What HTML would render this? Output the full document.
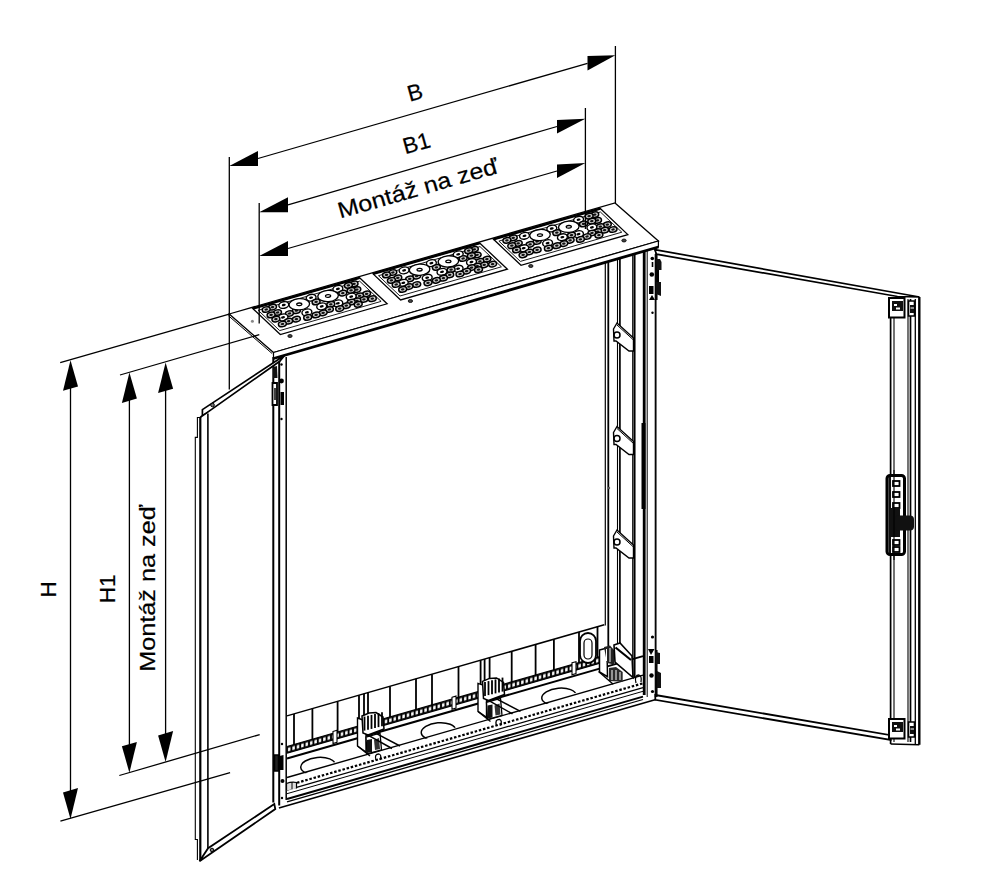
<!DOCTYPE html>
<html><head><meta charset="utf-8"><style>
html,body{margin:0;padding:0;background:#fff;overflow:hidden;}
svg{display:block;}
text{font-family:"Liberation Sans", sans-serif;fill:#000;stroke:#000;stroke-width:0.2px;}
</style></head><body>
<svg width="996" height="873" viewBox="0 0 996 873">
<text transform="translate(414.8 92.3) rotate(-15.5)" x="0" y="7.74" font-size="22.5" text-anchor="middle">B</text>
<text transform="translate(416.5 143.0) rotate(-15.5)" x="0" y="7.74" font-size="22.5" text-anchor="middle">B1</text>
<text transform="translate(417.8 188.2) rotate(-16)" x="0" y="7.74" font-size="22.5" text-anchor="middle" textLength="166" lengthAdjust="spacingAndGlyphs">Montáž na zeď</text>
<text transform="translate(48.0 589.3) rotate(-90)" x="0" y="7.74" font-size="22.5" text-anchor="middle">H</text>
<text transform="translate(107.0 588.8) rotate(-90)" x="0" y="7.74" font-size="22.5" text-anchor="middle">H1</text>
<text transform="translate(147.0 588.3) rotate(-90)" x="0" y="7.74" font-size="22.5" text-anchor="middle" textLength="167" lengthAdjust="spacingAndGlyphs">Montáž na zeď</text>
<polygon points="229.2,314.0 615.0,203.0 658.4,241.0 273.5,352.5" fill="#fff" stroke="#000" stroke-width="1.3"/>
<line x1="228.3" y1="315.6" x2="272.2" y2="353.6" stroke="#000" stroke-width="1.0"/>
<polygon points="273.5,352.5 658.4,241.0 658.4,247.0 273.5,358.5" fill="#fff" stroke="#000" stroke-width="1.2"/>
<line x1="273.5" y1="358.5" x2="658.4" y2="247.0" stroke="#000" stroke-width="2.8"/>
<ellipse cx="290.0" cy="336.0" rx="2.2" ry="1.5" fill="#444" stroke="#000" stroke-width="0.8"/>
<ellipse cx="410.4" cy="301.0" rx="2.2" ry="1.5" fill="#444" stroke="#000" stroke-width="0.8"/>
<ellipse cx="530.8" cy="266.0" rx="2.2" ry="1.5" fill="#444" stroke="#000" stroke-width="0.8"/>
<circle cx="252.4" cy="321.2" r="1.5" fill="#888"/>
<ellipse cx="624" cy="240.5" rx="2.2" ry="1.5" fill="#444" stroke="#000" stroke-width="0.8"/>
<polygon points="252.8,308.5 359.6,277.8 387.1,303.8 280.3,334.5" fill="#fff" stroke="#000" stroke-width="1.3"/>
<line x1="252.8" y1="308.5" x2="359.6" y2="277.8" stroke="#000" stroke-width="2.4"/>
<polygon points="258.2,310.3 359.7,281.2 381.1,301.4 279.7,330.6" fill="none" stroke="#000" stroke-width="0.9"/>
<ellipse cx="354.0" cy="283.9" rx="4.0" ry="2.7" fill="#ccc" stroke="#000" stroke-width="1.5" transform="rotate(-12 354.0 283.9)"/>
<ellipse cx="354.0" cy="283.9" rx="1.8" ry="1.1" fill="#111" stroke="none" stroke-width="1.0" transform="rotate(-12 354.0 283.9)"/>
<ellipse cx="348.4" cy="285.3" rx="4.0" ry="2.7" fill="#ccc" stroke="#000" stroke-width="1.5" transform="rotate(-12 348.4 285.3)"/>
<ellipse cx="348.4" cy="285.3" rx="1.8" ry="1.1" fill="#111" stroke="none" stroke-width="1.0" transform="rotate(-12 348.4 285.3)"/>
<ellipse cx="337.9" cy="288.9" rx="5.0" ry="3.3" fill="#fff" stroke="#000" stroke-width="1.4" transform="rotate(-12 337.9 288.9)"/>
<ellipse cx="337.9" cy="288.9" rx="2.0" ry="1.2" fill="#000" stroke="none" stroke-width="1.0" transform="rotate(-12 337.9 288.9)"/>
<ellipse cx="356.8" cy="289.6" rx="4.0" ry="2.7" fill="#ccc" stroke="#000" stroke-width="1.5" transform="rotate(-12 356.8 289.6)"/>
<ellipse cx="356.8" cy="289.6" rx="1.8" ry="1.1" fill="#111" stroke="none" stroke-width="1.0" transform="rotate(-12 356.8 289.6)"/>
<ellipse cx="351.1" cy="290.3" rx="4.0" ry="2.7" fill="#ccc" stroke="#000" stroke-width="1.5" transform="rotate(-12 351.1 290.3)"/>
<ellipse cx="351.1" cy="290.3" rx="1.8" ry="1.1" fill="#111" stroke="none" stroke-width="1.0" transform="rotate(-12 351.1 290.3)"/>
<ellipse cx="342.8" cy="293.1" rx="4.0" ry="2.7" fill="#ccc" stroke="#000" stroke-width="1.5" transform="rotate(-12 342.8 293.1)"/>
<ellipse cx="342.8" cy="293.1" rx="1.8" ry="1.1" fill="#111" stroke="none" stroke-width="1.0" transform="rotate(-12 342.8 293.1)"/>
<ellipse cx="366.6" cy="293.8" rx="4.0" ry="2.7" fill="#ccc" stroke="#000" stroke-width="1.5" transform="rotate(-12 366.6 293.8)"/>
<ellipse cx="366.6" cy="293.8" rx="1.8" ry="1.1" fill="#111" stroke="none" stroke-width="1.0" transform="rotate(-12 366.6 293.8)"/>
<ellipse cx="359.6" cy="295.9" rx="4.0" ry="2.7" fill="#ccc" stroke="#000" stroke-width="1.5" transform="rotate(-12 359.6 295.9)"/>
<ellipse cx="359.6" cy="295.9" rx="1.8" ry="1.1" fill="#111" stroke="none" stroke-width="1.0" transform="rotate(-12 359.6 295.9)"/>
<ellipse cx="351.2" cy="296.6" rx="5.0" ry="3.3" fill="#fff" stroke="#000" stroke-width="1.4" transform="rotate(-12 351.2 296.6)"/>
<ellipse cx="351.2" cy="296.6" rx="2.0" ry="1.2" fill="#000" stroke="none" stroke-width="1.0" transform="rotate(-12 351.2 296.6)"/>
<ellipse cx="311.1" cy="297.7" rx="5.0" ry="3.3" fill="#fff" stroke="#000" stroke-width="1.4" transform="rotate(-12 311.1 297.7)"/>
<ellipse cx="311.1" cy="297.7" rx="2.0" ry="1.2" fill="#000" stroke="none" stroke-width="1.0" transform="rotate(-12 311.1 297.7)"/>
<ellipse cx="372.3" cy="298.7" rx="4.0" ry="2.7" fill="#ccc" stroke="#000" stroke-width="1.5" transform="rotate(-12 372.3 298.7)"/>
<ellipse cx="372.3" cy="298.7" rx="1.8" ry="1.1" fill="#111" stroke="none" stroke-width="1.0" transform="rotate(-12 372.3 298.7)"/>
<ellipse cx="363.9" cy="299.4" rx="4.0" ry="2.7" fill="#ccc" stroke="#000" stroke-width="1.5" transform="rotate(-12 363.9 299.4)"/>
<ellipse cx="363.9" cy="299.4" rx="1.8" ry="1.1" fill="#111" stroke="none" stroke-width="1.0" transform="rotate(-12 363.9 299.4)"/>
<ellipse cx="356.9" cy="300.8" rx="4.0" ry="2.7" fill="#ccc" stroke="#000" stroke-width="1.5" transform="rotate(-12 356.9 300.8)"/>
<ellipse cx="356.9" cy="300.8" rx="1.8" ry="1.1" fill="#111" stroke="none" stroke-width="1.0" transform="rotate(-12 356.9 300.8)"/>
<ellipse cx="316.1" cy="301.9" rx="4.0" ry="2.7" fill="#ccc" stroke="#000" stroke-width="1.5" transform="rotate(-12 316.1 301.9)"/>
<ellipse cx="316.1" cy="301.9" rx="1.8" ry="1.1" fill="#111" stroke="none" stroke-width="1.0" transform="rotate(-12 316.1 301.9)"/>
<ellipse cx="351.2" cy="302.2" rx="4.0" ry="2.7" fill="#ccc" stroke="#000" stroke-width="1.5" transform="rotate(-12 351.2 302.2)"/>
<ellipse cx="351.2" cy="302.2" rx="1.8" ry="1.1" fill="#111" stroke="none" stroke-width="1.0" transform="rotate(-12 351.2 302.2)"/>
<ellipse cx="337.8" cy="303.3" rx="5.0" ry="3.3" fill="#fff" stroke="#000" stroke-width="1.4" transform="rotate(-12 337.8 303.3)"/>
<ellipse cx="337.8" cy="303.3" rx="2.0" ry="1.2" fill="#000" stroke="none" stroke-width="1.0" transform="rotate(-12 337.8 303.3)"/>
<ellipse cx="358.2" cy="304.3" rx="4.0" ry="2.7" fill="#ccc" stroke="#000" stroke-width="1.5" transform="rotate(-12 358.2 304.3)"/>
<ellipse cx="358.2" cy="304.3" rx="1.8" ry="1.1" fill="#111" stroke="none" stroke-width="1.0" transform="rotate(-12 358.2 304.3)"/>
<ellipse cx="330.8" cy="304.3" rx="4.0" ry="2.7" fill="#ccc" stroke="#000" stroke-width="1.5" transform="rotate(-12 330.8 304.3)"/>
<ellipse cx="330.8" cy="304.3" rx="1.8" ry="1.1" fill="#111" stroke="none" stroke-width="1.0" transform="rotate(-12 330.8 304.3)"/>
<ellipse cx="283.8" cy="305.0" rx="5.0" ry="3.3" fill="#fff" stroke="#000" stroke-width="1.4" transform="rotate(-12 283.8 305.0)"/>
<ellipse cx="283.8" cy="305.0" rx="2.0" ry="1.2" fill="#000" stroke="none" stroke-width="1.0" transform="rotate(-12 283.8 305.0)"/>
<ellipse cx="346.3" cy="305.7" rx="4.0" ry="2.7" fill="#ccc" stroke="#000" stroke-width="1.5" transform="rotate(-12 346.3 305.7)"/>
<ellipse cx="346.3" cy="305.7" rx="1.8" ry="1.1" fill="#111" stroke="none" stroke-width="1.0" transform="rotate(-12 346.3 305.7)"/>
<ellipse cx="321.7" cy="306.4" rx="5.0" ry="3.3" fill="#fff" stroke="#000" stroke-width="1.4" transform="rotate(-12 321.7 306.4)"/>
<ellipse cx="321.7" cy="306.4" rx="2.0" ry="1.2" fill="#000" stroke="none" stroke-width="1.0" transform="rotate(-12 321.7 306.4)"/>
<ellipse cx="272.5" cy="307.1" rx="4.0" ry="2.7" fill="#ccc" stroke="#000" stroke-width="1.5" transform="rotate(-12 272.5 307.1)"/>
<ellipse cx="272.5" cy="307.1" rx="1.8" ry="1.1" fill="#111" stroke="none" stroke-width="1.0" transform="rotate(-12 272.5 307.1)"/>
<ellipse cx="339.7" cy="308.6" rx="4.0" ry="2.7" fill="#ccc" stroke="#000" stroke-width="1.5" transform="rotate(-12 339.7 308.6)"/>
<ellipse cx="339.7" cy="308.6" rx="1.8" ry="1.1" fill="#111" stroke="none" stroke-width="1.0" transform="rotate(-12 339.7 308.6)"/>
<ellipse cx="266.2" cy="309.5" rx="4.0" ry="2.7" fill="#ccc" stroke="#000" stroke-width="1.5" transform="rotate(-12 266.2 309.5)"/>
<ellipse cx="266.2" cy="309.5" rx="1.8" ry="1.1" fill="#111" stroke="none" stroke-width="1.0" transform="rotate(-12 266.2 309.5)"/>
<ellipse cx="329.4" cy="309.5" rx="4.0" ry="2.7" fill="#ccc" stroke="#000" stroke-width="1.5" transform="rotate(-12 329.4 309.5)"/>
<ellipse cx="329.4" cy="309.5" rx="1.8" ry="1.1" fill="#111" stroke="none" stroke-width="1.0" transform="rotate(-12 329.4 309.5)"/>
<ellipse cx="296.4" cy="310.7" rx="4.0" ry="2.7" fill="#ccc" stroke="#000" stroke-width="1.5" transform="rotate(-12 296.4 310.7)"/>
<ellipse cx="296.4" cy="310.7" rx="1.8" ry="1.1" fill="#111" stroke="none" stroke-width="1.0" transform="rotate(-12 296.4 310.7)"/>
<ellipse cx="306.9" cy="312.3" rx="5.0" ry="3.3" fill="#fff" stroke="#000" stroke-width="1.4" transform="rotate(-12 306.9 312.3)"/>
<ellipse cx="306.9" cy="312.3" rx="2.0" ry="1.2" fill="#000" stroke="none" stroke-width="1.0" transform="rotate(-12 306.9 312.3)"/>
<ellipse cx="277.5" cy="312.5" rx="4.0" ry="2.7" fill="#ccc" stroke="#000" stroke-width="1.5" transform="rotate(-12 277.5 312.5)"/>
<ellipse cx="277.5" cy="312.5" rx="1.8" ry="1.1" fill="#111" stroke="none" stroke-width="1.0" transform="rotate(-12 277.5 312.5)"/>
<ellipse cx="323.1" cy="312.8" rx="4.0" ry="2.7" fill="#ccc" stroke="#000" stroke-width="1.5" transform="rotate(-12 323.1 312.8)"/>
<ellipse cx="323.1" cy="312.8" rx="1.8" ry="1.1" fill="#111" stroke="none" stroke-width="1.0" transform="rotate(-12 323.1 312.8)"/>
<ellipse cx="289.4" cy="313.5" rx="4.0" ry="2.7" fill="#ccc" stroke="#000" stroke-width="1.5" transform="rotate(-12 289.4 313.5)"/>
<ellipse cx="289.4" cy="313.5" rx="1.8" ry="1.1" fill="#111" stroke="none" stroke-width="1.0" transform="rotate(-12 289.4 313.5)"/>
<ellipse cx="271.1" cy="314.9" rx="4.0" ry="2.7" fill="#ccc" stroke="#000" stroke-width="1.5" transform="rotate(-12 271.1 314.9)"/>
<ellipse cx="271.1" cy="314.9" rx="1.8" ry="1.1" fill="#111" stroke="none" stroke-width="1.0" transform="rotate(-12 271.1 314.9)"/>
<ellipse cx="316.1" cy="314.9" rx="4.0" ry="2.7" fill="#ccc" stroke="#000" stroke-width="1.5" transform="rotate(-12 316.1 314.9)"/>
<ellipse cx="316.1" cy="314.9" rx="1.8" ry="1.1" fill="#111" stroke="none" stroke-width="1.0" transform="rotate(-12 316.1 314.9)"/>
<ellipse cx="283.0" cy="317.4" rx="5.0" ry="3.3" fill="#fff" stroke="#000" stroke-width="1.4" transform="rotate(-12 283.0 317.4)"/>
<ellipse cx="283.0" cy="317.4" rx="2.0" ry="1.2" fill="#000" stroke="none" stroke-width="1.0" transform="rotate(-12 283.0 317.4)"/>
<ellipse cx="307.7" cy="317.4" rx="4.0" ry="2.7" fill="#ccc" stroke="#000" stroke-width="1.5" transform="rotate(-12 307.7 317.4)"/>
<ellipse cx="307.7" cy="317.4" rx="1.8" ry="1.1" fill="#111" stroke="none" stroke-width="1.0" transform="rotate(-12 307.7 317.4)"/>
<ellipse cx="275.9" cy="319.1" rx="4.0" ry="2.7" fill="#ccc" stroke="#000" stroke-width="1.5" transform="rotate(-12 275.9 319.1)"/>
<ellipse cx="275.9" cy="319.1" rx="1.8" ry="1.1" fill="#111" stroke="none" stroke-width="1.0" transform="rotate(-12 275.9 319.1)"/>
<ellipse cx="296.4" cy="319.1" rx="4.0" ry="2.7" fill="#ccc" stroke="#000" stroke-width="1.5" transform="rotate(-12 296.4 319.1)"/>
<ellipse cx="296.4" cy="319.1" rx="1.8" ry="1.1" fill="#111" stroke="none" stroke-width="1.0" transform="rotate(-12 296.4 319.1)"/>
<ellipse cx="288.6" cy="321.2" rx="4.0" ry="2.7" fill="#ccc" stroke="#000" stroke-width="1.5" transform="rotate(-12 288.6 321.2)"/>
<ellipse cx="288.6" cy="321.2" rx="1.8" ry="1.1" fill="#111" stroke="none" stroke-width="1.0" transform="rotate(-12 288.6 321.2)"/>
<ellipse cx="282.4" cy="324.0" rx="4.0" ry="2.7" fill="#ccc" stroke="#000" stroke-width="1.5" transform="rotate(-12 282.4 324.0)"/>
<ellipse cx="282.4" cy="324.0" rx="1.8" ry="1.1" fill="#111" stroke="none" stroke-width="1.0" transform="rotate(-12 282.4 324.0)"/>
<ellipse cx="299.3" cy="304.3" rx="10.3" ry="5.6" fill="#fff" stroke="#000" stroke-width="1.3" transform="rotate(-4 299.3 304.3)"/>
<ellipse cx="299.3" cy="304.3" rx="2.6" ry="1.3" fill="none" stroke="#000" stroke-width="1.3" transform="rotate(-4 299.3 304.3)"/>
<ellipse cx="328.1" cy="296.0" rx="10.3" ry="5.6" fill="#fff" stroke="#000" stroke-width="1.3" transform="rotate(-4 328.1 296.0)"/>
<ellipse cx="328.1" cy="296.0" rx="2.6" ry="1.3" fill="none" stroke="#000" stroke-width="1.3" transform="rotate(-4 328.1 296.0)"/>
<polygon points="373.1,273.9 479.9,243.2 507.4,269.2 400.6,299.9" fill="#fff" stroke="#000" stroke-width="1.3"/>
<line x1="373.1" y1="273.9" x2="479.9" y2="243.2" stroke="#000" stroke-width="2.4"/>
<polygon points="378.5,275.7 480.0,246.6 501.4,266.8 400.0,296.0" fill="none" stroke="#000" stroke-width="0.9"/>
<ellipse cx="474.3" cy="249.3" rx="4.0" ry="2.7" fill="#ccc" stroke="#000" stroke-width="1.5" transform="rotate(-12 474.3 249.3)"/>
<ellipse cx="474.3" cy="249.3" rx="1.8" ry="1.1" fill="#111" stroke="none" stroke-width="1.0" transform="rotate(-12 474.3 249.3)"/>
<ellipse cx="468.7" cy="250.7" rx="4.0" ry="2.7" fill="#ccc" stroke="#000" stroke-width="1.5" transform="rotate(-12 468.7 250.7)"/>
<ellipse cx="468.7" cy="250.7" rx="1.8" ry="1.1" fill="#111" stroke="none" stroke-width="1.0" transform="rotate(-12 468.7 250.7)"/>
<ellipse cx="458.2" cy="254.3" rx="5.0" ry="3.3" fill="#fff" stroke="#000" stroke-width="1.4" transform="rotate(-12 458.2 254.3)"/>
<ellipse cx="458.2" cy="254.3" rx="2.0" ry="1.2" fill="#000" stroke="none" stroke-width="1.0" transform="rotate(-12 458.2 254.3)"/>
<ellipse cx="477.1" cy="255.0" rx="4.0" ry="2.7" fill="#ccc" stroke="#000" stroke-width="1.5" transform="rotate(-12 477.1 255.0)"/>
<ellipse cx="477.1" cy="255.0" rx="1.8" ry="1.1" fill="#111" stroke="none" stroke-width="1.0" transform="rotate(-12 477.1 255.0)"/>
<ellipse cx="471.4" cy="255.7" rx="4.0" ry="2.7" fill="#ccc" stroke="#000" stroke-width="1.5" transform="rotate(-12 471.4 255.7)"/>
<ellipse cx="471.4" cy="255.7" rx="1.8" ry="1.1" fill="#111" stroke="none" stroke-width="1.0" transform="rotate(-12 471.4 255.7)"/>
<ellipse cx="463.1" cy="258.5" rx="4.0" ry="2.7" fill="#ccc" stroke="#000" stroke-width="1.5" transform="rotate(-12 463.1 258.5)"/>
<ellipse cx="463.1" cy="258.5" rx="1.8" ry="1.1" fill="#111" stroke="none" stroke-width="1.0" transform="rotate(-12 463.1 258.5)"/>
<ellipse cx="486.9" cy="259.2" rx="4.0" ry="2.7" fill="#ccc" stroke="#000" stroke-width="1.5" transform="rotate(-12 486.9 259.2)"/>
<ellipse cx="486.9" cy="259.2" rx="1.8" ry="1.1" fill="#111" stroke="none" stroke-width="1.0" transform="rotate(-12 486.9 259.2)"/>
<ellipse cx="479.9" cy="261.3" rx="4.0" ry="2.7" fill="#ccc" stroke="#000" stroke-width="1.5" transform="rotate(-12 479.9 261.3)"/>
<ellipse cx="479.9" cy="261.3" rx="1.8" ry="1.1" fill="#111" stroke="none" stroke-width="1.0" transform="rotate(-12 479.9 261.3)"/>
<ellipse cx="471.5" cy="262.0" rx="5.0" ry="3.3" fill="#fff" stroke="#000" stroke-width="1.4" transform="rotate(-12 471.5 262.0)"/>
<ellipse cx="471.5" cy="262.0" rx="2.0" ry="1.2" fill="#000" stroke="none" stroke-width="1.0" transform="rotate(-12 471.5 262.0)"/>
<ellipse cx="431.4" cy="263.1" rx="5.0" ry="3.3" fill="#fff" stroke="#000" stroke-width="1.4" transform="rotate(-12 431.4 263.1)"/>
<ellipse cx="431.4" cy="263.1" rx="2.0" ry="1.2" fill="#000" stroke="none" stroke-width="1.0" transform="rotate(-12 431.4 263.1)"/>
<ellipse cx="492.6" cy="264.1" rx="4.0" ry="2.7" fill="#ccc" stroke="#000" stroke-width="1.5" transform="rotate(-12 492.6 264.1)"/>
<ellipse cx="492.6" cy="264.1" rx="1.8" ry="1.1" fill="#111" stroke="none" stroke-width="1.0" transform="rotate(-12 492.6 264.1)"/>
<ellipse cx="484.2" cy="264.8" rx="4.0" ry="2.7" fill="#ccc" stroke="#000" stroke-width="1.5" transform="rotate(-12 484.2 264.8)"/>
<ellipse cx="484.2" cy="264.8" rx="1.8" ry="1.1" fill="#111" stroke="none" stroke-width="1.0" transform="rotate(-12 484.2 264.8)"/>
<ellipse cx="477.2" cy="266.2" rx="4.0" ry="2.7" fill="#ccc" stroke="#000" stroke-width="1.5" transform="rotate(-12 477.2 266.2)"/>
<ellipse cx="477.2" cy="266.2" rx="1.8" ry="1.1" fill="#111" stroke="none" stroke-width="1.0" transform="rotate(-12 477.2 266.2)"/>
<ellipse cx="436.4" cy="267.3" rx="4.0" ry="2.7" fill="#ccc" stroke="#000" stroke-width="1.5" transform="rotate(-12 436.4 267.3)"/>
<ellipse cx="436.4" cy="267.3" rx="1.8" ry="1.1" fill="#111" stroke="none" stroke-width="1.0" transform="rotate(-12 436.4 267.3)"/>
<ellipse cx="471.5" cy="267.6" rx="4.0" ry="2.7" fill="#ccc" stroke="#000" stroke-width="1.5" transform="rotate(-12 471.5 267.6)"/>
<ellipse cx="471.5" cy="267.6" rx="1.8" ry="1.1" fill="#111" stroke="none" stroke-width="1.0" transform="rotate(-12 471.5 267.6)"/>
<ellipse cx="458.1" cy="268.7" rx="5.0" ry="3.3" fill="#fff" stroke="#000" stroke-width="1.4" transform="rotate(-12 458.1 268.7)"/>
<ellipse cx="458.1" cy="268.7" rx="2.0" ry="1.2" fill="#000" stroke="none" stroke-width="1.0" transform="rotate(-12 458.1 268.7)"/>
<ellipse cx="478.5" cy="269.7" rx="4.0" ry="2.7" fill="#ccc" stroke="#000" stroke-width="1.5" transform="rotate(-12 478.5 269.7)"/>
<ellipse cx="478.5" cy="269.7" rx="1.8" ry="1.1" fill="#111" stroke="none" stroke-width="1.0" transform="rotate(-12 478.5 269.7)"/>
<ellipse cx="451.1" cy="269.7" rx="4.0" ry="2.7" fill="#ccc" stroke="#000" stroke-width="1.5" transform="rotate(-12 451.1 269.7)"/>
<ellipse cx="451.1" cy="269.7" rx="1.8" ry="1.1" fill="#111" stroke="none" stroke-width="1.0" transform="rotate(-12 451.1 269.7)"/>
<ellipse cx="404.1" cy="270.4" rx="5.0" ry="3.3" fill="#fff" stroke="#000" stroke-width="1.4" transform="rotate(-12 404.1 270.4)"/>
<ellipse cx="404.1" cy="270.4" rx="2.0" ry="1.2" fill="#000" stroke="none" stroke-width="1.0" transform="rotate(-12 404.1 270.4)"/>
<ellipse cx="466.6" cy="271.1" rx="4.0" ry="2.7" fill="#ccc" stroke="#000" stroke-width="1.5" transform="rotate(-12 466.6 271.1)"/>
<ellipse cx="466.6" cy="271.1" rx="1.8" ry="1.1" fill="#111" stroke="none" stroke-width="1.0" transform="rotate(-12 466.6 271.1)"/>
<ellipse cx="442.0" cy="271.8" rx="5.0" ry="3.3" fill="#fff" stroke="#000" stroke-width="1.4" transform="rotate(-12 442.0 271.8)"/>
<ellipse cx="442.0" cy="271.8" rx="2.0" ry="1.2" fill="#000" stroke="none" stroke-width="1.0" transform="rotate(-12 442.0 271.8)"/>
<ellipse cx="392.8" cy="272.5" rx="4.0" ry="2.7" fill="#ccc" stroke="#000" stroke-width="1.5" transform="rotate(-12 392.8 272.5)"/>
<ellipse cx="392.8" cy="272.5" rx="1.8" ry="1.1" fill="#111" stroke="none" stroke-width="1.0" transform="rotate(-12 392.8 272.5)"/>
<ellipse cx="460.0" cy="274.0" rx="4.0" ry="2.7" fill="#ccc" stroke="#000" stroke-width="1.5" transform="rotate(-12 460.0 274.0)"/>
<ellipse cx="460.0" cy="274.0" rx="1.8" ry="1.1" fill="#111" stroke="none" stroke-width="1.0" transform="rotate(-12 460.0 274.0)"/>
<ellipse cx="386.5" cy="274.9" rx="4.0" ry="2.7" fill="#ccc" stroke="#000" stroke-width="1.5" transform="rotate(-12 386.5 274.9)"/>
<ellipse cx="386.5" cy="274.9" rx="1.8" ry="1.1" fill="#111" stroke="none" stroke-width="1.0" transform="rotate(-12 386.5 274.9)"/>
<ellipse cx="449.7" cy="274.9" rx="4.0" ry="2.7" fill="#ccc" stroke="#000" stroke-width="1.5" transform="rotate(-12 449.7 274.9)"/>
<ellipse cx="449.7" cy="274.9" rx="1.8" ry="1.1" fill="#111" stroke="none" stroke-width="1.0" transform="rotate(-12 449.7 274.9)"/>
<ellipse cx="416.7" cy="276.1" rx="4.0" ry="2.7" fill="#ccc" stroke="#000" stroke-width="1.5" transform="rotate(-12 416.7 276.1)"/>
<ellipse cx="416.7" cy="276.1" rx="1.8" ry="1.1" fill="#111" stroke="none" stroke-width="1.0" transform="rotate(-12 416.7 276.1)"/>
<ellipse cx="427.2" cy="277.7" rx="5.0" ry="3.3" fill="#fff" stroke="#000" stroke-width="1.4" transform="rotate(-12 427.2 277.7)"/>
<ellipse cx="427.2" cy="277.7" rx="2.0" ry="1.2" fill="#000" stroke="none" stroke-width="1.0" transform="rotate(-12 427.2 277.7)"/>
<ellipse cx="397.8" cy="277.9" rx="4.0" ry="2.7" fill="#ccc" stroke="#000" stroke-width="1.5" transform="rotate(-12 397.8 277.9)"/>
<ellipse cx="397.8" cy="277.9" rx="1.8" ry="1.1" fill="#111" stroke="none" stroke-width="1.0" transform="rotate(-12 397.8 277.9)"/>
<ellipse cx="443.4" cy="278.2" rx="4.0" ry="2.7" fill="#ccc" stroke="#000" stroke-width="1.5" transform="rotate(-12 443.4 278.2)"/>
<ellipse cx="443.4" cy="278.2" rx="1.8" ry="1.1" fill="#111" stroke="none" stroke-width="1.0" transform="rotate(-12 443.4 278.2)"/>
<ellipse cx="409.7" cy="278.9" rx="4.0" ry="2.7" fill="#ccc" stroke="#000" stroke-width="1.5" transform="rotate(-12 409.7 278.9)"/>
<ellipse cx="409.7" cy="278.9" rx="1.8" ry="1.1" fill="#111" stroke="none" stroke-width="1.0" transform="rotate(-12 409.7 278.9)"/>
<ellipse cx="391.4" cy="280.3" rx="4.0" ry="2.7" fill="#ccc" stroke="#000" stroke-width="1.5" transform="rotate(-12 391.4 280.3)"/>
<ellipse cx="391.4" cy="280.3" rx="1.8" ry="1.1" fill="#111" stroke="none" stroke-width="1.0" transform="rotate(-12 391.4 280.3)"/>
<ellipse cx="436.4" cy="280.3" rx="4.0" ry="2.7" fill="#ccc" stroke="#000" stroke-width="1.5" transform="rotate(-12 436.4 280.3)"/>
<ellipse cx="436.4" cy="280.3" rx="1.8" ry="1.1" fill="#111" stroke="none" stroke-width="1.0" transform="rotate(-12 436.4 280.3)"/>
<ellipse cx="403.3" cy="282.8" rx="5.0" ry="3.3" fill="#fff" stroke="#000" stroke-width="1.4" transform="rotate(-12 403.3 282.8)"/>
<ellipse cx="403.3" cy="282.8" rx="2.0" ry="1.2" fill="#000" stroke="none" stroke-width="1.0" transform="rotate(-12 403.3 282.8)"/>
<ellipse cx="428.0" cy="282.8" rx="4.0" ry="2.7" fill="#ccc" stroke="#000" stroke-width="1.5" transform="rotate(-12 428.0 282.8)"/>
<ellipse cx="428.0" cy="282.8" rx="1.8" ry="1.1" fill="#111" stroke="none" stroke-width="1.0" transform="rotate(-12 428.0 282.8)"/>
<ellipse cx="396.2" cy="284.5" rx="4.0" ry="2.7" fill="#ccc" stroke="#000" stroke-width="1.5" transform="rotate(-12 396.2 284.5)"/>
<ellipse cx="396.2" cy="284.5" rx="1.8" ry="1.1" fill="#111" stroke="none" stroke-width="1.0" transform="rotate(-12 396.2 284.5)"/>
<ellipse cx="416.7" cy="284.5" rx="4.0" ry="2.7" fill="#ccc" stroke="#000" stroke-width="1.5" transform="rotate(-12 416.7 284.5)"/>
<ellipse cx="416.7" cy="284.5" rx="1.8" ry="1.1" fill="#111" stroke="none" stroke-width="1.0" transform="rotate(-12 416.7 284.5)"/>
<ellipse cx="408.9" cy="286.6" rx="4.0" ry="2.7" fill="#ccc" stroke="#000" stroke-width="1.5" transform="rotate(-12 408.9 286.6)"/>
<ellipse cx="408.9" cy="286.6" rx="1.8" ry="1.1" fill="#111" stroke="none" stroke-width="1.0" transform="rotate(-12 408.9 286.6)"/>
<ellipse cx="402.7" cy="289.4" rx="4.0" ry="2.7" fill="#ccc" stroke="#000" stroke-width="1.5" transform="rotate(-12 402.7 289.4)"/>
<ellipse cx="402.7" cy="289.4" rx="1.8" ry="1.1" fill="#111" stroke="none" stroke-width="1.0" transform="rotate(-12 402.7 289.4)"/>
<ellipse cx="419.6" cy="269.7" rx="10.3" ry="5.6" fill="#fff" stroke="#000" stroke-width="1.3" transform="rotate(-4 419.6 269.7)"/>
<ellipse cx="419.6" cy="269.7" rx="2.6" ry="1.3" fill="none" stroke="#000" stroke-width="1.3" transform="rotate(-4 419.6 269.7)"/>
<ellipse cx="448.4" cy="261.4" rx="10.3" ry="5.6" fill="#fff" stroke="#000" stroke-width="1.3" transform="rotate(-4 448.4 261.4)"/>
<ellipse cx="448.4" cy="261.4" rx="2.6" ry="1.3" fill="none" stroke="#000" stroke-width="1.3" transform="rotate(-4 448.4 261.4)"/>
<polygon points="493.5,239.3 600.3,208.6 627.8,234.6 521.0,265.3" fill="#fff" stroke="#000" stroke-width="1.3"/>
<line x1="493.5" y1="239.3" x2="600.3" y2="208.6" stroke="#000" stroke-width="2.4"/>
<polygon points="498.9,241.1 600.4,212.0 621.8,232.2 520.4,261.4" fill="none" stroke="#000" stroke-width="0.9"/>
<ellipse cx="594.7" cy="214.7" rx="4.0" ry="2.7" fill="#ccc" stroke="#000" stroke-width="1.5" transform="rotate(-12 594.7 214.7)"/>
<ellipse cx="594.7" cy="214.7" rx="1.8" ry="1.1" fill="#111" stroke="none" stroke-width="1.0" transform="rotate(-12 594.7 214.7)"/>
<ellipse cx="589.1" cy="216.1" rx="4.0" ry="2.7" fill="#ccc" stroke="#000" stroke-width="1.5" transform="rotate(-12 589.1 216.1)"/>
<ellipse cx="589.1" cy="216.1" rx="1.8" ry="1.1" fill="#111" stroke="none" stroke-width="1.0" transform="rotate(-12 589.1 216.1)"/>
<ellipse cx="578.6" cy="219.7" rx="5.0" ry="3.3" fill="#fff" stroke="#000" stroke-width="1.4" transform="rotate(-12 578.6 219.7)"/>
<ellipse cx="578.6" cy="219.7" rx="2.0" ry="1.2" fill="#000" stroke="none" stroke-width="1.0" transform="rotate(-12 578.6 219.7)"/>
<ellipse cx="597.5" cy="220.4" rx="4.0" ry="2.7" fill="#ccc" stroke="#000" stroke-width="1.5" transform="rotate(-12 597.5 220.4)"/>
<ellipse cx="597.5" cy="220.4" rx="1.8" ry="1.1" fill="#111" stroke="none" stroke-width="1.0" transform="rotate(-12 597.5 220.4)"/>
<ellipse cx="591.8" cy="221.1" rx="4.0" ry="2.7" fill="#ccc" stroke="#000" stroke-width="1.5" transform="rotate(-12 591.8 221.1)"/>
<ellipse cx="591.8" cy="221.1" rx="1.8" ry="1.1" fill="#111" stroke="none" stroke-width="1.0" transform="rotate(-12 591.8 221.1)"/>
<ellipse cx="583.5" cy="223.9" rx="4.0" ry="2.7" fill="#ccc" stroke="#000" stroke-width="1.5" transform="rotate(-12 583.5 223.9)"/>
<ellipse cx="583.5" cy="223.9" rx="1.8" ry="1.1" fill="#111" stroke="none" stroke-width="1.0" transform="rotate(-12 583.5 223.9)"/>
<ellipse cx="607.3" cy="224.6" rx="4.0" ry="2.7" fill="#ccc" stroke="#000" stroke-width="1.5" transform="rotate(-12 607.3 224.6)"/>
<ellipse cx="607.3" cy="224.6" rx="1.8" ry="1.1" fill="#111" stroke="none" stroke-width="1.0" transform="rotate(-12 607.3 224.6)"/>
<ellipse cx="600.3" cy="226.7" rx="4.0" ry="2.7" fill="#ccc" stroke="#000" stroke-width="1.5" transform="rotate(-12 600.3 226.7)"/>
<ellipse cx="600.3" cy="226.7" rx="1.8" ry="1.1" fill="#111" stroke="none" stroke-width="1.0" transform="rotate(-12 600.3 226.7)"/>
<ellipse cx="591.9" cy="227.4" rx="5.0" ry="3.3" fill="#fff" stroke="#000" stroke-width="1.4" transform="rotate(-12 591.9 227.4)"/>
<ellipse cx="591.9" cy="227.4" rx="2.0" ry="1.2" fill="#000" stroke="none" stroke-width="1.0" transform="rotate(-12 591.9 227.4)"/>
<ellipse cx="551.8" cy="228.5" rx="5.0" ry="3.3" fill="#fff" stroke="#000" stroke-width="1.4" transform="rotate(-12 551.8 228.5)"/>
<ellipse cx="551.8" cy="228.5" rx="2.0" ry="1.2" fill="#000" stroke="none" stroke-width="1.0" transform="rotate(-12 551.8 228.5)"/>
<ellipse cx="613.0" cy="229.5" rx="4.0" ry="2.7" fill="#ccc" stroke="#000" stroke-width="1.5" transform="rotate(-12 613.0 229.5)"/>
<ellipse cx="613.0" cy="229.5" rx="1.8" ry="1.1" fill="#111" stroke="none" stroke-width="1.0" transform="rotate(-12 613.0 229.5)"/>
<ellipse cx="604.6" cy="230.2" rx="4.0" ry="2.7" fill="#ccc" stroke="#000" stroke-width="1.5" transform="rotate(-12 604.6 230.2)"/>
<ellipse cx="604.6" cy="230.2" rx="1.8" ry="1.1" fill="#111" stroke="none" stroke-width="1.0" transform="rotate(-12 604.6 230.2)"/>
<ellipse cx="597.6" cy="231.6" rx="4.0" ry="2.7" fill="#ccc" stroke="#000" stroke-width="1.5" transform="rotate(-12 597.6 231.6)"/>
<ellipse cx="597.6" cy="231.6" rx="1.8" ry="1.1" fill="#111" stroke="none" stroke-width="1.0" transform="rotate(-12 597.6 231.6)"/>
<ellipse cx="556.8" cy="232.7" rx="4.0" ry="2.7" fill="#ccc" stroke="#000" stroke-width="1.5" transform="rotate(-12 556.8 232.7)"/>
<ellipse cx="556.8" cy="232.7" rx="1.8" ry="1.1" fill="#111" stroke="none" stroke-width="1.0" transform="rotate(-12 556.8 232.7)"/>
<ellipse cx="591.9" cy="233.0" rx="4.0" ry="2.7" fill="#ccc" stroke="#000" stroke-width="1.5" transform="rotate(-12 591.9 233.0)"/>
<ellipse cx="591.9" cy="233.0" rx="1.8" ry="1.1" fill="#111" stroke="none" stroke-width="1.0" transform="rotate(-12 591.9 233.0)"/>
<ellipse cx="578.5" cy="234.1" rx="5.0" ry="3.3" fill="#fff" stroke="#000" stroke-width="1.4" transform="rotate(-12 578.5 234.1)"/>
<ellipse cx="578.5" cy="234.1" rx="2.0" ry="1.2" fill="#000" stroke="none" stroke-width="1.0" transform="rotate(-12 578.5 234.1)"/>
<ellipse cx="598.9" cy="235.1" rx="4.0" ry="2.7" fill="#ccc" stroke="#000" stroke-width="1.5" transform="rotate(-12 598.9 235.1)"/>
<ellipse cx="598.9" cy="235.1" rx="1.8" ry="1.1" fill="#111" stroke="none" stroke-width="1.0" transform="rotate(-12 598.9 235.1)"/>
<ellipse cx="571.5" cy="235.1" rx="4.0" ry="2.7" fill="#ccc" stroke="#000" stroke-width="1.5" transform="rotate(-12 571.5 235.1)"/>
<ellipse cx="571.5" cy="235.1" rx="1.8" ry="1.1" fill="#111" stroke="none" stroke-width="1.0" transform="rotate(-12 571.5 235.1)"/>
<ellipse cx="524.5" cy="235.8" rx="5.0" ry="3.3" fill="#fff" stroke="#000" stroke-width="1.4" transform="rotate(-12 524.5 235.8)"/>
<ellipse cx="524.5" cy="235.8" rx="2.0" ry="1.2" fill="#000" stroke="none" stroke-width="1.0" transform="rotate(-12 524.5 235.8)"/>
<ellipse cx="587.0" cy="236.5" rx="4.0" ry="2.7" fill="#ccc" stroke="#000" stroke-width="1.5" transform="rotate(-12 587.0 236.5)"/>
<ellipse cx="587.0" cy="236.5" rx="1.8" ry="1.1" fill="#111" stroke="none" stroke-width="1.0" transform="rotate(-12 587.0 236.5)"/>
<ellipse cx="562.4" cy="237.2" rx="5.0" ry="3.3" fill="#fff" stroke="#000" stroke-width="1.4" transform="rotate(-12 562.4 237.2)"/>
<ellipse cx="562.4" cy="237.2" rx="2.0" ry="1.2" fill="#000" stroke="none" stroke-width="1.0" transform="rotate(-12 562.4 237.2)"/>
<ellipse cx="513.2" cy="237.9" rx="4.0" ry="2.7" fill="#ccc" stroke="#000" stroke-width="1.5" transform="rotate(-12 513.2 237.9)"/>
<ellipse cx="513.2" cy="237.9" rx="1.8" ry="1.1" fill="#111" stroke="none" stroke-width="1.0" transform="rotate(-12 513.2 237.9)"/>
<ellipse cx="580.4" cy="239.4" rx="4.0" ry="2.7" fill="#ccc" stroke="#000" stroke-width="1.5" transform="rotate(-12 580.4 239.4)"/>
<ellipse cx="580.4" cy="239.4" rx="1.8" ry="1.1" fill="#111" stroke="none" stroke-width="1.0" transform="rotate(-12 580.4 239.4)"/>
<ellipse cx="506.9" cy="240.3" rx="4.0" ry="2.7" fill="#ccc" stroke="#000" stroke-width="1.5" transform="rotate(-12 506.9 240.3)"/>
<ellipse cx="506.9" cy="240.3" rx="1.8" ry="1.1" fill="#111" stroke="none" stroke-width="1.0" transform="rotate(-12 506.9 240.3)"/>
<ellipse cx="570.1" cy="240.3" rx="4.0" ry="2.7" fill="#ccc" stroke="#000" stroke-width="1.5" transform="rotate(-12 570.1 240.3)"/>
<ellipse cx="570.1" cy="240.3" rx="1.8" ry="1.1" fill="#111" stroke="none" stroke-width="1.0" transform="rotate(-12 570.1 240.3)"/>
<ellipse cx="537.1" cy="241.5" rx="4.0" ry="2.7" fill="#ccc" stroke="#000" stroke-width="1.5" transform="rotate(-12 537.1 241.5)"/>
<ellipse cx="537.1" cy="241.5" rx="1.8" ry="1.1" fill="#111" stroke="none" stroke-width="1.0" transform="rotate(-12 537.1 241.5)"/>
<ellipse cx="547.6" cy="243.1" rx="5.0" ry="3.3" fill="#fff" stroke="#000" stroke-width="1.4" transform="rotate(-12 547.6 243.1)"/>
<ellipse cx="547.6" cy="243.1" rx="2.0" ry="1.2" fill="#000" stroke="none" stroke-width="1.0" transform="rotate(-12 547.6 243.1)"/>
<ellipse cx="518.2" cy="243.3" rx="4.0" ry="2.7" fill="#ccc" stroke="#000" stroke-width="1.5" transform="rotate(-12 518.2 243.3)"/>
<ellipse cx="518.2" cy="243.3" rx="1.8" ry="1.1" fill="#111" stroke="none" stroke-width="1.0" transform="rotate(-12 518.2 243.3)"/>
<ellipse cx="563.8" cy="243.6" rx="4.0" ry="2.7" fill="#ccc" stroke="#000" stroke-width="1.5" transform="rotate(-12 563.8 243.6)"/>
<ellipse cx="563.8" cy="243.6" rx="1.8" ry="1.1" fill="#111" stroke="none" stroke-width="1.0" transform="rotate(-12 563.8 243.6)"/>
<ellipse cx="530.1" cy="244.3" rx="4.0" ry="2.7" fill="#ccc" stroke="#000" stroke-width="1.5" transform="rotate(-12 530.1 244.3)"/>
<ellipse cx="530.1" cy="244.3" rx="1.8" ry="1.1" fill="#111" stroke="none" stroke-width="1.0" transform="rotate(-12 530.1 244.3)"/>
<ellipse cx="511.8" cy="245.7" rx="4.0" ry="2.7" fill="#ccc" stroke="#000" stroke-width="1.5" transform="rotate(-12 511.8 245.7)"/>
<ellipse cx="511.8" cy="245.7" rx="1.8" ry="1.1" fill="#111" stroke="none" stroke-width="1.0" transform="rotate(-12 511.8 245.7)"/>
<ellipse cx="556.8" cy="245.7" rx="4.0" ry="2.7" fill="#ccc" stroke="#000" stroke-width="1.5" transform="rotate(-12 556.8 245.7)"/>
<ellipse cx="556.8" cy="245.7" rx="1.8" ry="1.1" fill="#111" stroke="none" stroke-width="1.0" transform="rotate(-12 556.8 245.7)"/>
<ellipse cx="523.7" cy="248.2" rx="5.0" ry="3.3" fill="#fff" stroke="#000" stroke-width="1.4" transform="rotate(-12 523.7 248.2)"/>
<ellipse cx="523.7" cy="248.2" rx="2.0" ry="1.2" fill="#000" stroke="none" stroke-width="1.0" transform="rotate(-12 523.7 248.2)"/>
<ellipse cx="548.4" cy="248.2" rx="4.0" ry="2.7" fill="#ccc" stroke="#000" stroke-width="1.5" transform="rotate(-12 548.4 248.2)"/>
<ellipse cx="548.4" cy="248.2" rx="1.8" ry="1.1" fill="#111" stroke="none" stroke-width="1.0" transform="rotate(-12 548.4 248.2)"/>
<ellipse cx="516.6" cy="249.9" rx="4.0" ry="2.7" fill="#ccc" stroke="#000" stroke-width="1.5" transform="rotate(-12 516.6 249.9)"/>
<ellipse cx="516.6" cy="249.9" rx="1.8" ry="1.1" fill="#111" stroke="none" stroke-width="1.0" transform="rotate(-12 516.6 249.9)"/>
<ellipse cx="537.1" cy="249.9" rx="4.0" ry="2.7" fill="#ccc" stroke="#000" stroke-width="1.5" transform="rotate(-12 537.1 249.9)"/>
<ellipse cx="537.1" cy="249.9" rx="1.8" ry="1.1" fill="#111" stroke="none" stroke-width="1.0" transform="rotate(-12 537.1 249.9)"/>
<ellipse cx="529.3" cy="252.0" rx="4.0" ry="2.7" fill="#ccc" stroke="#000" stroke-width="1.5" transform="rotate(-12 529.3 252.0)"/>
<ellipse cx="529.3" cy="252.0" rx="1.8" ry="1.1" fill="#111" stroke="none" stroke-width="1.0" transform="rotate(-12 529.3 252.0)"/>
<ellipse cx="523.1" cy="254.8" rx="4.0" ry="2.7" fill="#ccc" stroke="#000" stroke-width="1.5" transform="rotate(-12 523.1 254.8)"/>
<ellipse cx="523.1" cy="254.8" rx="1.8" ry="1.1" fill="#111" stroke="none" stroke-width="1.0" transform="rotate(-12 523.1 254.8)"/>
<ellipse cx="540.0" cy="235.1" rx="10.3" ry="5.6" fill="#fff" stroke="#000" stroke-width="1.3" transform="rotate(-4 540.0 235.1)"/>
<ellipse cx="540.0" cy="235.1" rx="2.6" ry="1.3" fill="none" stroke="#000" stroke-width="1.3" transform="rotate(-4 540.0 235.1)"/>
<ellipse cx="568.8" cy="226.8" rx="10.3" ry="5.6" fill="#fff" stroke="#000" stroke-width="1.3" transform="rotate(-4 568.8 226.8)"/>
<ellipse cx="568.8" cy="226.8" rx="2.6" ry="1.3" fill="none" stroke="#000" stroke-width="1.3" transform="rotate(-4 568.8 226.8)"/>
<line x1="273.3" y1="357.0" x2="273.3" y2="802.5" stroke="#000" stroke-width="2.0"/>
<line x1="279.2" y1="357.0" x2="279.2" y2="805.5" stroke="#000" stroke-width="2.0"/>
<line x1="286.2" y1="357.0" x2="286.2" y2="800.0" stroke="#000" stroke-width="1.5"/>
<line x1="605.3" y1="263.1" x2="605.3" y2="625.4" stroke="#000" stroke-width="1.2"/>
<line x1="608.3" y1="262.2" x2="608.3" y2="646.7" stroke="#000" stroke-width="1.8"/>
<line x1="617.5" y1="259.6" x2="617.5" y2="644.0" stroke="#000" stroke-width="1.1"/>
<line x1="619.9" y1="258.9" x2="619.9" y2="644.0" stroke="#000" stroke-width="1.7"/>
<line x1="632.8" y1="255.2" x2="632.8" y2="677.0" stroke="#000" stroke-width="1.3"/>
<line x1="634.6" y1="254.6" x2="634.6" y2="677.0" stroke="#000" stroke-width="1.9"/>
<line x1="644.2" y1="251.9" x2="644.2" y2="695.0" stroke="#000" stroke-width="2.8"/>
<line x1="647.2" y1="251.0" x2="647.2" y2="697.0" stroke="#000" stroke-width="1"/>
<line x1="655.9" y1="248.5" x2="655.9" y2="697.0" stroke="#000" stroke-width="1.3"/>
<line x1="278.9" y1="808.0" x2="655.9" y2="699.6" stroke="#000" stroke-width="1.6"/>
<line x1="287.0" y1="715.9" x2="604.3" y2="624.7" stroke="#000" stroke-width="1.5"/>
<line x1="294.0" y1="713.9" x2="294.0" y2="745.7" stroke="#000" stroke-width="1.8"/>
<line x1="312.4" y1="708.6" x2="312.4" y2="740.4" stroke="#000" stroke-width="1.8"/>
<line x1="337.6" y1="701.4" x2="337.6" y2="733.2" stroke="#000" stroke-width="1.8"/>
<line x1="359.0" y1="695.2" x2="359.0" y2="727.0" stroke="#000" stroke-width="1.8"/>
<line x1="364.0" y1="693.8" x2="364.0" y2="725.6" stroke="#000" stroke-width="1.8"/>
<line x1="368.0" y1="692.6" x2="368.0" y2="724.4" stroke="#000" stroke-width="1.8"/>
<line x1="390.0" y1="686.3" x2="390.0" y2="718.1" stroke="#000" stroke-width="1.8"/>
<line x1="416.0" y1="678.8" x2="416.0" y2="710.6" stroke="#000" stroke-width="1.8"/>
<line x1="432.0" y1="674.2" x2="432.0" y2="706.0" stroke="#000" stroke-width="1.8"/>
<line x1="458.5" y1="666.6" x2="458.5" y2="698.4" stroke="#000" stroke-width="1.8"/>
<line x1="480.6" y1="660.2" x2="480.6" y2="692.0" stroke="#000" stroke-width="1.8"/>
<line x1="484.6" y1="659.1" x2="484.6" y2="690.9" stroke="#000" stroke-width="1.8"/>
<line x1="489.6" y1="657.6" x2="489.6" y2="689.4" stroke="#000" stroke-width="1.8"/>
<line x1="511.7" y1="651.3" x2="511.7" y2="683.1" stroke="#000" stroke-width="1.8"/>
<line x1="535.6" y1="644.4" x2="535.6" y2="676.2" stroke="#000" stroke-width="1.8"/>
<line x1="553.9" y1="639.2" x2="553.9" y2="671.0" stroke="#000" stroke-width="1.8"/>
<line x1="579.0" y1="631.9" x2="579.0" y2="663.7" stroke="#000" stroke-width="1.8"/>
<line x1="597.5" y1="626.6" x2="597.5" y2="658.4" stroke="#000" stroke-width="1.8"/>
<line x1="287.0" y1="746.5" x2="600.0" y2="656.5" stroke="#000" stroke-width="1.2"/>
<line x1="287.0" y1="753.2" x2="600.0" y2="663.2" stroke="#000" stroke-width="1.3"/>
<defs><pattern id="teeth" patternUnits="userSpaceOnUse" width="4.4" height="12" patternTransform="translate(287 746.5) skewY(-16.04)"><rect width="4.4" height="12" fill="#000"/><rect x="1.0" y="1.6" width="2.4" height="3.6" fill="#fff"/></pattern></defs>
<polygon points="287.0,746.5 600.0,656.5 600.0,663.2 287.0,753.2" fill="url(#teeth)" stroke="none" stroke-width="1"/>
<polygon points="333.0,731.5 337.0,730.3 337.0,742.3 333.0,743.5" fill="#fff" stroke="#000" stroke-width="1.1"/>
<polygon points="452.0,697.3 456.0,696.1 456.0,708.1 452.0,709.3" fill="#fff" stroke="#000" stroke-width="1.1"/>
<polygon points="572.0,662.7 576.0,661.6 576.0,673.6 572.0,674.7" fill="#fff" stroke="#000" stroke-width="1.1"/>
<line x1="287.0" y1="758.5" x2="643.0" y2="656.1" stroke="#000" stroke-width="2.0"/>
<line x1="287.0" y1="777.5" x2="643.0" y2="675.1" stroke="#000" stroke-width="1.4"/>
<line x1="287.0" y1="790.1" x2="643.0" y2="687.7" stroke="#000" stroke-width="1.2"/>
<line x1="287.0" y1="793.7" x2="643.0" y2="691.3" stroke="#000" stroke-width="1.0"/>
<line x1="287.0" y1="799.0" x2="643.0" y2="696.6" stroke="#000" stroke-width="2.0"/>
<defs><clipPath id="kclip"><polygon points="286,717.8 643,615.1 643,675.1 286,777.8"/></clipPath></defs>
<ellipse cx="318" cy="766" rx="17.3" ry="8.6" fill="none" stroke="#000" stroke-width="1.5" clip-path="url(#kclip)" transform="rotate(-5 318 766)"/>
<ellipse cx="438.5" cy="731.4" rx="17.3" ry="8.6" fill="none" stroke="#000" stroke-width="1.5" clip-path="url(#kclip)" transform="rotate(-5 438.5 731.4)"/>
<ellipse cx="559" cy="696.8" rx="17.3" ry="8.6" fill="none" stroke="#000" stroke-width="1.5" clip-path="url(#kclip)" transform="rotate(-5 559 696.8)"/>
<line x1="297" y1="782.8" x2="643" y2="683.3" stroke="#000" stroke-width="2.2" stroke-dasharray="2.5 1.8"/>
<line x1="287.0" y1="801.9" x2="643.0" y2="699.5" stroke="#000" stroke-width="1.3"/>
<path d="M286.5 790.5 v-7 q5 -2 10 -1 v6" fill="#ddd" stroke="#000" stroke-width="1.2"/>
<line x1="292.0" y1="782.0" x2="292.0" y2="789.0" stroke="#000" stroke-width="1.0"/>
<polygon points="357.5,718.0 366.0,721.0 366.0,752.0 357.5,746.0" fill="#fff" stroke="#000" stroke-width="1.4"/>
<polygon points="362.0,716.0 369.0,713.0 376.0,712.5 383.0,717.0 384.0,729.0 368.0,735.0 363.0,733.0" fill="#fff" stroke="#000" stroke-width="1.5"/>
<line x1="364.5" y1="716.6" x2="364.5" y2="730.6" stroke="#000" stroke-width="1.8"/>
<line x1="368.0" y1="715.8" x2="368.0" y2="729.8" stroke="#000" stroke-width="1.8"/>
<line x1="371.5" y1="714.9" x2="371.5" y2="728.9" stroke="#000" stroke-width="1.8"/>
<line x1="375.0" y1="714.0" x2="375.0" y2="728.0" stroke="#000" stroke-width="1.8"/>
<line x1="378.5" y1="713.1" x2="378.5" y2="727.1" stroke="#000" stroke-width="1.8"/>
<line x1="382.0" y1="712.2" x2="382.0" y2="726.2" stroke="#000" stroke-width="1.8"/>
<polygon points="366.0,737.0 380.0,733.0 381.5,750.0 367.0,754.0" fill="#fff" stroke="#000" stroke-width="1.3"/>
<polygon points="367.0,740.0 372.0,739.0 372.0,752.0 367.0,753.0" fill="#111" stroke="none" stroke-width="1"/>
<polygon points="374.0,740.0 379.0,738.0 380.0,749.0 375.0,750.0" fill="#333" stroke="none" stroke-width="1"/>
<line x1="368.4" y1="735.3" x2="392.0" y2="748.5" stroke="#000" stroke-width="1.5"/>
<line x1="376.5" y1="733.7" x2="400.0" y2="746.0" stroke="#000" stroke-width="1.5"/>
<line x1="357.5" y1="746.0" x2="370.0" y2="756.0" stroke="#000" stroke-width="1.3"/>
<path d="M376.0 760.0 q-2 -6 3 -6 q3 1 1 6" fill="none" stroke="#000" stroke-width="1.3"/>
<polygon points="478.0,683.4 486.5,686.4 486.5,717.4 478.0,711.4" fill="#fff" stroke="#000" stroke-width="1.4"/>
<polygon points="482.5,681.4 489.5,678.4 496.5,677.9 503.5,682.4 504.5,694.4 488.5,700.4 483.5,698.4" fill="#fff" stroke="#000" stroke-width="1.5"/>
<line x1="485.0" y1="682.0" x2="485.0" y2="696.0" stroke="#000" stroke-width="1.8"/>
<line x1="488.5" y1="681.1" x2="488.5" y2="695.1" stroke="#000" stroke-width="1.8"/>
<line x1="492.0" y1="680.3" x2="492.0" y2="694.3" stroke="#000" stroke-width="1.8"/>
<line x1="495.5" y1="679.4" x2="495.5" y2="693.4" stroke="#000" stroke-width="1.8"/>
<line x1="499.0" y1="678.5" x2="499.0" y2="692.5" stroke="#000" stroke-width="1.8"/>
<line x1="502.5" y1="677.6" x2="502.5" y2="691.6" stroke="#000" stroke-width="1.8"/>
<polygon points="486.5,702.4 500.5,698.4 502.0,715.4 487.5,719.4" fill="#fff" stroke="#000" stroke-width="1.3"/>
<polygon points="487.5,705.4 492.5,704.4 492.5,717.4 487.5,718.4" fill="#111" stroke="none" stroke-width="1"/>
<polygon points="494.5,705.4 499.5,703.4 500.5,714.4 495.5,715.4" fill="#333" stroke="none" stroke-width="1"/>
<line x1="488.9" y1="700.7" x2="512.5" y2="713.9" stroke="#000" stroke-width="1.5"/>
<line x1="497.0" y1="699.1" x2="520.5" y2="711.4" stroke="#000" stroke-width="1.5"/>
<line x1="478.0" y1="711.4" x2="490.5" y2="721.4" stroke="#000" stroke-width="1.3"/>
<path d="M496.5 725.4 q-2 -6 3 -6 q3 1 1 6" fill="none" stroke="#000" stroke-width="1.3"/>
<polygon points="284.8,355.2 202.4,409.6 202.4,415.5 200.3,417.4 279.7,361.3" fill="#fff" stroke="#000" stroke-width="1.7"/>
<line x1="202.4" y1="415.5" x2="207.9" y2="412.0" stroke="#000" stroke-width="1.3"/>
<line x1="200.3" y1="417.0" x2="200.3" y2="861.0" stroke="#000" stroke-width="2.2"/>
<line x1="207.9" y1="413.5" x2="207.9" y2="849.3" stroke="#000" stroke-width="1.6"/>
<polyline points="200.3,417.5 197.4,417.5 197.4,437.4 195.3,437.4 195.3,839.5 197.4,839.5 197.4,860.0" fill="none" stroke="#000" stroke-width="1.1"/>
<polygon points="199.5,861.3 275.3,809.1 274.3,804.0 208.1,848.2" fill="#fff" stroke="#000" stroke-width="1.8"/>
<circle cx="212" cy="850" r="1.8" fill="#777" stroke="#000" stroke-width="1"/>
<circle cx="212.5" cy="405" r="1.8" fill="#777" stroke="#000" stroke-width="1"/>
<polygon points="654.7,249.6 919.5,297.0 897.5,296.5 656.6,254.2" fill="#fff" stroke="#000" stroke-width="1.7"/>
<line x1="919.3" y1="297.0" x2="919.3" y2="744.7" stroke="#000" stroke-width="2.4"/>
<line x1="890.6" y1="299.0" x2="890.6" y2="744.0" stroke="#000" stroke-width="1.7"/>
<line x1="894.0" y1="299.0" x2="894.0" y2="742.0" stroke="#000" stroke-width="1.1"/>
<line x1="908.0" y1="299.0" x2="908.0" y2="742.0" stroke="#000" stroke-width="1.1"/>
<line x1="910.5" y1="299.0" x2="910.5" y2="742.0" stroke="#000" stroke-width="1.7"/>
<line x1="915.3" y1="299.0" x2="915.3" y2="744.0" stroke="#000" stroke-width="1.3"/>
<line x1="655.3" y1="254.0" x2="655.3" y2="697.0" stroke="#000" stroke-width="1.2"/>
<polygon points="655.3,695.0 890.6,735.2 890.6,740.0 655.3,699.8" fill="#fff" stroke="#000" stroke-width="1.8"/>
<polyline points="890.6,744.0 919.3,744.7" fill="none" stroke="#000" stroke-width="1.6"/>
<polygon points="889.0,298.0 904.5,298.0 904.5,317.5 889.0,317.5" fill="#fff" stroke="#000" stroke-width="2.0"/>
<polygon points="892.0,301.0 903.0,301.0 903.0,311.0 892.0,311.0" fill="#111" stroke="none" stroke-width="1"/>
<polygon points="894.0,304.0 897.0,304.0 897.0,306.0 894.0,306.0" fill="#fff" stroke="none" stroke-width="1"/>
<polygon points="896.0,307.5 900.0,307.5 900.0,309.5 896.0,309.5" fill="#fff" stroke="none" stroke-width="1"/>
<polygon points="908.5,301.0 914.5,301.0 914.5,316.0 908.5,316.0" fill="#fff" stroke="#000" stroke-width="1.6"/>
<polygon points="910.0,305.0 914.0,305.0 914.0,313.0 910.0,313.0" fill="#111" stroke="none" stroke-width="1"/>
<line x1="910.5" y1="308.0" x2="914.0" y2="308.0" stroke="#fff" stroke-width="1.0"/>
<polygon points="889.0,719.0 904.5,719.0 904.5,738.5 889.0,738.5" fill="#fff" stroke="#000" stroke-width="2.0"/>
<polygon points="892.0,722.0 903.0,722.0 903.0,732.0 892.0,732.0" fill="#111" stroke="none" stroke-width="1"/>
<polygon points="894.0,725.0 897.0,725.0 897.0,727.0 894.0,727.0" fill="#fff" stroke="none" stroke-width="1"/>
<polygon points="896.0,728.5 900.0,728.5 900.0,730.5 896.0,730.5" fill="#fff" stroke="none" stroke-width="1"/>
<polygon points="908.5,722.0 914.5,722.0 914.5,737.0 908.5,737.0" fill="#fff" stroke="#000" stroke-width="1.6"/>
<polygon points="910.0,726.0 914.0,726.0 914.0,734.0 910.0,734.0" fill="#111" stroke="none" stroke-width="1"/>
<line x1="910.5" y1="729.0" x2="914.0" y2="729.0" stroke="#fff" stroke-width="1.0"/>
<rect x="887" y="475.5" width="17.5" height="79" rx="3" fill="#fff" stroke="#000" stroke-width="3"/>
<polygon points="888.5,477.0 891.0,477.0 891.0,553.0 888.5,553.0" fill="#111" stroke="none" stroke-width="1"/>
<rect x="893" y="481" width="6.5" height="5" fill="#fff" stroke="#000" stroke-width="1.8"/>
<rect x="893" y="492" width="6.5" height="5" fill="#fff" stroke="#000" stroke-width="1.8"/>
<rect x="893" y="503" width="6.5" height="5" fill="#fff" stroke="#000" stroke-width="1.8"/>
<rect x="893" y="540" width="6.5" height="5" fill="#fff" stroke="#000" stroke-width="1.8"/>
<rect x="893" y="547" width="6.5" height="5" fill="#fff" stroke="#000" stroke-width="1.8"/>
<polygon points="889.0,508.0 900.0,508.0 900.0,537.0 889.0,537.0" fill="#111" stroke="none" stroke-width="1"/>
<rect x="895" y="515.5" width="19" height="15" rx="4" fill="#111"/>
<line x1="894.0" y1="470.0" x2="894.0" y2="560.0" stroke="#000" stroke-width="1.1"/>
<circle cx="652.3" cy="258.5" r="1.8" fill="#000"/>
<line x1="652.5" y1="262.0" x2="652.5" y2="267.0" stroke="#000" stroke-width="1.6"/>
<circle cx="651.8" cy="274.5" r="2.3" fill="#000"/>
<polygon points="649.0,286.0 653.5,286.0 653.5,294.0 649.0,294.0" fill="#000" stroke="none" stroke-width="1"/>
<polygon points="649.0,300.0 652.0,295.0 655.0,300.0" fill="#000" stroke="none" stroke-width="1"/>
<circle cx="652.5" cy="312.7" r="1.2" fill="#000"/>
<line x1="656.8" y1="254.0" x2="656.8" y2="300.0" stroke="#000" stroke-width="1.5"/>
<polygon points="656.0,259.0 660.0,259.0 661.5,262.0 661.5,270.0 657.0,270.0" fill="#111" stroke="none" stroke-width="1"/>
<polygon points="656.0,282.0 661.0,282.0 661.0,296.0 656.0,294.0" fill="#111" stroke="none" stroke-width="1"/>
<line x1="658.0" y1="270.0" x2="658.0" y2="282.0" stroke="#000" stroke-width="2"/>
<circle cx="652.5" cy="637.0" r="1.6" fill="#000"/>
<polygon points="648.0,649.0 654.5,649.0 651.0,655.0" fill="#000" stroke="none" stroke-width="1"/>
<polygon points="649.0,656.0 653.5,656.0 653.5,663.0 649.0,663.0" fill="#000" stroke="none" stroke-width="1"/>
<circle cx="651.5" cy="675.5" r="2.2" fill="#000"/>
<circle cx="652.5" cy="691.5" r="1.6" fill="#000"/>
<line x1="656.8" y1="650.0" x2="656.8" y2="697.0" stroke="#000" stroke-width="1.5"/>
<polygon points="655.5,652.0 660.0,653.0 660.0,664.0 656.0,664.0" fill="#111" stroke="none" stroke-width="1"/>
<polygon points="657.0,671.0 661.0,673.0 661.0,688.0 657.0,688.0" fill="#111" stroke="none" stroke-width="1"/>
<line x1="643.5" y1="423.0" x2="643.5" y2="509.0" stroke="#000" stroke-width="4.0"/>
<polygon points="273.0,367.0 277.0,366.0 277.5,378.0 273.0,378.0" fill="#111" stroke="none" stroke-width="1"/>
<polygon points="272.5,383.0 277.0,383.0 277.0,405.0 272.5,405.0" fill="#fff" stroke="#000" stroke-width="1.8"/>
<line x1="275.0" y1="388.0" x2="275.0" y2="400.0" stroke="#000" stroke-width="1.5"/>
<circle cx="281.5" cy="381.0" r="2.4" fill="#000"/>
<polygon points="280.5,392.0 284.0,392.0 284.0,405.0 280.5,405.0" fill="#000" stroke="none" stroke-width="1"/>
<circle cx="281.5" cy="364.5" r="1.2" fill="#000"/>
<circle cx="281.5" cy="419.0" r="1.2" fill="#000"/>
<rect x="274.5" y="755" width="4" height="16" fill="#222" stroke="#000" stroke-width="1.5"/>
<polygon points="279.5,756.0 283.5,755.0 283.5,770.0 279.5,770.0" fill="#000" stroke="none" stroke-width="1"/>
<circle cx="282.0" cy="744.0" r="1.2" fill="#000"/>
<circle cx="282.5" cy="781.0" r="2.0" fill="#000"/>
<circle cx="282.0" cy="798.0" r="1.2" fill="#000"/>
<polygon points="613.5,329.0 617.0,323.0 633.5,338.0 633.5,351.0 629.0,351.0 616.0,341.0 614.0,341.0" fill="#fff" stroke="#000" stroke-width="1.4"/>
<line x1="617.0" y1="325.0" x2="633.5" y2="340.0" stroke="#000" stroke-width="1.0"/>
<circle cx="617" cy="335" r="3" fill="none" stroke="#000" stroke-width="1.5"/>
<polygon points="613.5,432.5 617.0,426.5 633.5,441.5 633.5,454.5 629.0,454.5 616.0,444.5 614.0,444.5" fill="#fff" stroke="#000" stroke-width="1.4"/>
<line x1="617.0" y1="428.5" x2="633.5" y2="443.5" stroke="#000" stroke-width="1.0"/>
<circle cx="617" cy="438.5" r="3" fill="none" stroke="#000" stroke-width="1.5"/>
<polygon points="613.5,536.0 617.0,530.0 633.5,545.0 633.5,558.0 629.0,558.0 616.0,548.0 614.0,548.0" fill="#fff" stroke="#000" stroke-width="1.4"/>
<line x1="617.0" y1="532.0" x2="633.5" y2="547.0" stroke="#000" stroke-width="1.0"/>
<circle cx="617" cy="542" r="3" fill="none" stroke="#000" stroke-width="1.5"/>
<rect x="580" y="633" width="16" height="30" rx="8" fill="#fff" stroke="#000" stroke-width="1.8"/>
<rect x="584" y="639" width="8" height="20" rx="4" fill="none" stroke="#000" stroke-width="1.2"/>
<polygon points="599.5,650.0 607.0,648.0 607.5,676.6 599.5,672.0" fill="#fff" stroke="#000" stroke-width="1.5"/>
<polygon points="604.0,647.0 610.0,645.5 614.0,650.0 614.0,664.5 607.0,663.0" fill="#222" stroke="none" stroke-width="1"/>
<line x1="606.5" y1="649.0" x2="606.5" y2="661.0" stroke="#fff" stroke-width="1.0"/>
<line x1="610.0" y1="648.0" x2="610.0" y2="662.0" stroke="#fff" stroke-width="1.0"/>
<polygon points="614.0,645.0 620.0,643.0 632.0,656.0 633.0,677.5 615.0,662.0" fill="#fff" stroke="#000" stroke-width="1.6"/>
<line x1="615.5" y1="647.5" x2="631.0" y2="660.0" stroke="#000" stroke-width="2.2"/>
<polygon points="609.0,668.0 616.0,667.0 622.7,672.0 622.7,681.7 609.0,681.0" fill="#2a2a2a" stroke="none" stroke-width="1"/>
<line x1="612.0" y1="670.0" x2="612.0" y2="680.0" stroke="#fff" stroke-width="1.0"/>
<line x1="616.0" y1="670.0" x2="616.0" y2="680.0" stroke="#fff" stroke-width="1.0"/>
<line x1="620.0" y1="672.0" x2="620.0" y2="680.0" stroke="#fff" stroke-width="1.0"/>
<line x1="598.6" y1="671.4" x2="613.2" y2="684.3" stroke="#000" stroke-width="1.4"/>
<path d="M636 683 q-2 -8 3 -8 q3 1 2 7" fill="none" stroke="#000" stroke-width="1.3"/>
<circle cx="609.0" cy="488.0" r="1.2" fill="#555"/>
<line x1="229.3" y1="157.0" x2="229.3" y2="389.5" stroke="#000" stroke-width="1.3"/>
<line x1="259.2" y1="203.0" x2="259.2" y2="323.5" stroke="#000" stroke-width="1.3"/>
<line x1="615.4" y1="46.0" x2="615.4" y2="203.0" stroke="#000" stroke-width="1.3"/>
<line x1="585.4" y1="108.0" x2="585.4" y2="229.0" stroke="#000" stroke-width="1.3"/>
<line x1="258.0" y1="158.5" x2="587.5" y2="63.3" stroke="#000" stroke-width="1.3"/>
<polygon points="229.3,166.0 258.0,151.0 258.0,166.0" fill="#000" stroke="none" stroke-width="1"/>
<polygon points="615.4,55.3 587.5,56.1 587.5,70.5" fill="#000" stroke="none" stroke-width="1"/>
<line x1="288.0" y1="204.8" x2="557.0" y2="126.5" stroke="#000" stroke-width="1.3"/>
<polygon points="259.2,212.3 288.0,197.3 288.0,212.3" fill="#000" stroke="none" stroke-width="1"/>
<polygon points="585.4,118.8 557.0,120.0 557.0,133.5" fill="#000" stroke="none" stroke-width="1"/>
<line x1="288.0" y1="248.5" x2="557.0" y2="171.0" stroke="#000" stroke-width="1.3"/>
<polygon points="259.2,256.0 288.0,241.0 288.0,256.0" fill="#000" stroke="none" stroke-width="1"/>
<polygon points="585.4,163.0 557.0,164.5 557.0,178.0" fill="#000" stroke="none" stroke-width="1"/>
<line x1="70.5" y1="380.3" x2="70.5" y2="798.9" stroke="#000" stroke-width="1.3"/>
<polygon points="70.5,360.3 63.0,390.8 78.0,386.5" fill="#000" stroke="none" stroke-width="1"/>
<polygon points="70.5,818.9 63.0,792.4 78.0,788.1" fill="#000" stroke="none" stroke-width="1"/>
<line x1="129.4" y1="392.4" x2="129.4" y2="752.7" stroke="#000" stroke-width="1.3"/>
<polygon points="129.4,372.4 121.9,402.9 136.9,398.6" fill="#000" stroke="none" stroke-width="1"/>
<polygon points="129.4,772.7 121.9,746.2 136.9,741.9" fill="#000" stroke="none" stroke-width="1"/>
<line x1="165.6" y1="382.6" x2="165.6" y2="741.9" stroke="#000" stroke-width="1.3"/>
<polygon points="165.6,362.6 158.1,393.1 173.1,388.8" fill="#000" stroke="none" stroke-width="1"/>
<polygon points="165.6,761.9 158.1,735.4 173.1,731.1" fill="#000" stroke="none" stroke-width="1"/>
<line x1="60.2" y1="362.6" x2="229.2" y2="314.1" stroke="#000" stroke-width="1.3"/>
<line x1="120.0" y1="375.0" x2="259.3" y2="334.7" stroke="#000" stroke-width="1.3"/>
<line x1="60.4" y1="821.2" x2="230.1" y2="772.7" stroke="#000" stroke-width="1.3"/>
<line x1="119.3" y1="775.5" x2="259.7" y2="734.6" stroke="#000" stroke-width="1.3"/>
</svg></body></html>
